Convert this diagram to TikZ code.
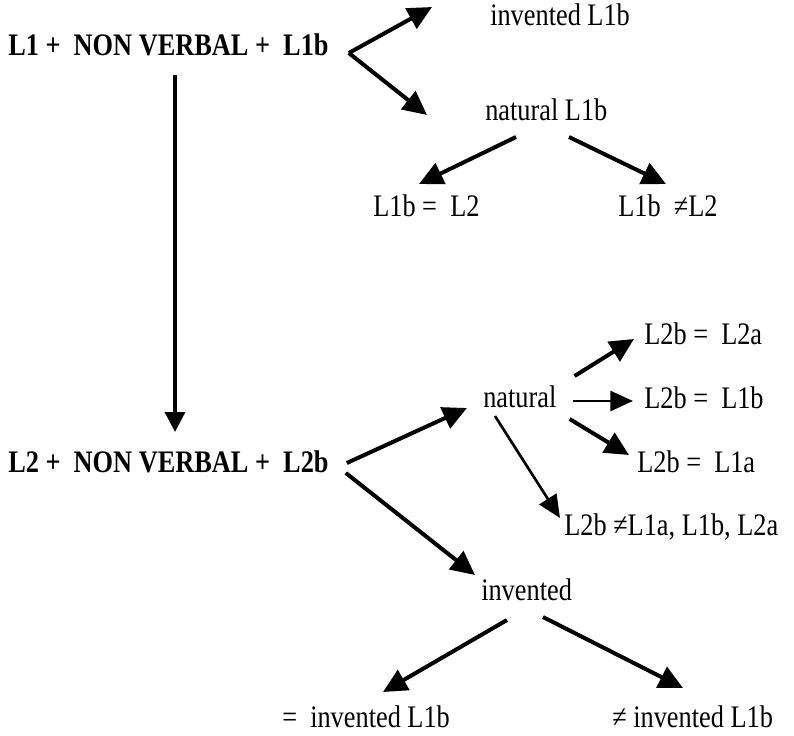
\documentclass[tikz,border=0pt]{standalone}
\usepackage{fontspec}
\setmainfont{Liberation Serif}[FakeStretch=0.84]
\usetikzlibrary{arrows.meta,calc}

\begin{document}
\begin{tikzpicture}[x=0.75pt,y=-0.75pt,
    lbl/.style={anchor=base west,inner sep=0pt,font=\fontsize{23.5}{28}\selectfont},
    bold/.style={lbl,font=\fontsize{23.5}{28}\selectfont\bfseries},
    arr/.style={line width=3pt,-{Triangle[length=18pt,width=17pt]}},
    thinarr/.style={line width=2pt,-{Triangle[length=17pt,width=15pt]}}]
    \useasboundingbox (0,0) rectangle (794,736);

    % Baris L1
    \node (l1) at (8,55) [bold] {L1 + ~NON VERBAL + ~L1b};
    \node (invl1b) at (490,25) [lbl] {invented L1b};
    \node (natl1b) at (485,120) [lbl] {natural L1b};
    \node (eqL2) at (373,216) [lbl] {L1b = ~L2};
    \node (neqL2) at (618,216) [lbl] {L1b ~≠L2};

    % Baris L2
    \node (l2) at (8,472) [bold] {L2 + ~NON VERBAL + ~L2b};
    \node (nat) at (483,407) [lbl] {natural};
    \node (eqL2a) at (644,344) [lbl] {L2b = ~L2a};
    \node (eqL1b) at (644,408) [lbl] {L2b = ~L1b};
    \node (eqL1a) at (637,472) [lbl] {L2b = ~L1a};
    \node (neqall) at (564,535) [lbl] {L2b ≠L1a, L1b, L2a};
    \node (inv) at (481,600) [lbl] {invented};
    \node (eqinv) at (282,727) [lbl] {= ~invented L1b};
    \node (neqinv) at (612,727) [lbl] {≠ invented L1b};

    % Cabang L1
    \draw[arr] ($(l1.base east)+(20,-2)$) -- ($(invl1b.base west)+(-58,-18)$);
    \draw[arr] ($(l1.base east)+(20,-2)$) -- ($(natl1b.base west)+(-58,-5)$);
    \draw[arr] ($(natl1b.base west)+(31,17)$) -- ($(eqL2.base west)+(46,-32)$);
    \draw[arr] ($(natl1b.base west)+(84,17)$) -- ($(neqL2.base west)+(48,-32)$);

    % L1 ke L2
    \draw[line width=2.4pt,-{Triangle[length=15pt,width=15pt]}]
        ($(l1.base west)+(167,20)$) -- ($(l2.base west)+(167,-40)$);

    % Cabang L2
    \draw[arr] ($(l2.base east)+(18,-9)$) -- ($(nat.base west)+(-16,1)$);
    \draw[arr] ($(l2.base east)+(17,1)$) -- ($(inv.base west)+(-6,-25)$);
    \draw[arr] ($(nat.base east)+(18,-31)$) -- ($(eqL2a.base west)+(-10,-5)$);
    \draw[thinarr] ($(nat.base east)+(16,-6)$) -- ($(eqL1b.base west)+(-11,-7)$);
    \draw[arr] ($(nat.base east)+(13,12)$) -- ($(eqL1a.base west)+(-8,-17)$);
    \draw[thinarr] ($(nat.base west)+(12,9)$) -- ($(neqall.base west)+(-4,-17)$);
    \draw[arr] ($(inv.base west)+(26,20)$) -- ($(eqinv.base west)+(101,-35)$);
    \draw[arr] ($(inv.base west)+(62,17)$) -- ($(neqinv.base west)+(71,-39)$);
\end{tikzpicture}
\end{document}
